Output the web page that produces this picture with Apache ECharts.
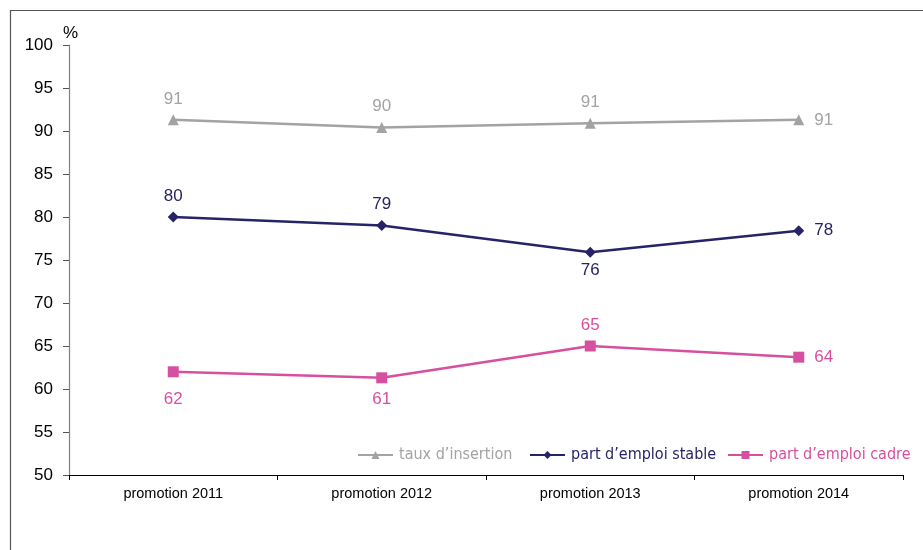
<!DOCTYPE html>
<html>
<head>
<meta charset="utf-8">
<script src="https://cdn.jsdelivr.net/npm/echarts@6/dist/echarts.min.js"></script>
<style>
  html, body { margin: 0; padding: 0; background: #fff; }
  #chart { width: 923px; height: 550px; }
</style>
</head>
<body>
<div id="chart"></div>
<script>
// Categories and values
const categories = ['promotion 2011', 'promotion 2012', 'promotion 2013', 'promotion 2014'];
const tauxInsertion = [91.3, 90.4, 90.9, 91.3];
const emploiStable = [80.0, 79.0, 75.9, 78.4];
const emploiCadre = [62.0, 61.3, 65.0, 63.7];
// Where each value label sits relative to its point
const tauxLabelPos = ['top', 'top', 'top', 'right'];
const stableLabelPos = ['top', 'top', 'bottom', 'right'];
const cadreLabelPos = ['bottom', 'bottom', 'top', 'right'];
const cadreLabelGap = [14, 7, 7, 10];
const seriesNames = ['taux d\u2019insertion', 'part d\u2019emploi stable', 'part d\u2019emploi cadre'];

const GRAY = '#a3a3a3';
const NAVY = '#262466';
const PINK = '#d6509f';
const FONT = 'Liberation Sans, Arial, sans-serif';
const LEGEND_FONT = 'DejaVu Sans Condensed, DejaVu Sans, sans-serif';

function defaultGap(pos) {
  return pos === 'right' ? 10 : (pos === 'top' ? 7 : 4);
}

function points(values, positions, color, gaps) {
  return values.map((v, i) => ({
    value: v,
    label: {
      show: true,
      position: positions[i],
      distance: gaps ? gaps[i] : defaultGap(positions[i]),
      color: color,
      fontSize: 17,
      fontFamily: FONT,
      formatter: p => String(Math.round(p.value))
    }
  }));
}

function lineSeries(name, values, positions, color, symbol, size, gaps) {
  return {
    name: name,
    type: 'line',
    data: points(values, positions, color, gaps),
    symbol: symbol,
    symbolSize: size,
    itemStyle: { color: color },
    lineStyle: { color: color, width: 2.5 },
    emphasis: { disabled: true },
    animation: false
  };
}

// One legend block per series so each entry can sit at its own spot
function legendBlock(name, color, left) {
  return {
    left: left,
    top: 447,
    padding: 0,
    itemWidth: 35,
    itemHeight: 10,
    itemGap: 0,
    selectedMode: false,
    textStyle: { fontSize: 16, color: color, fontFamily: LEGEND_FONT, padding: [0, 0, 0, 1] },
    data: [name]
  };
}

const chart = echarts.init(document.getElementById('chart'), null, { renderer: 'canvas' });
chart.setOption({
  animation: false,
  graphic: [{
    type: 'rect',
    shape: { x: 10.5, y: 10.5, width: 1000, height: 1000 },
    style: { fill: 'none', stroke: '#555', lineWidth: 1.2 },
    silent: true
  }],
  grid: { left: 69, right: 20, top: 45, bottom: 75 },
  legend: [
    legendBlock(seriesNames[0], GRAY, 357),
    legendBlock(seriesNames[1], NAVY, 529),
    legendBlock(seriesNames[2], PINK, 727)
  ],
  xAxis: {
    type: 'category',
    data: categories,
    boundaryGap: true,
    axisLine: { lineStyle: { color: '#000', width: 1.2 } },
    axisTick: { show: true, alignWithLabel: false, length: 5, lineStyle: { color: '#000' } },
    axisLabel: { color: '#000', fontSize: 14.5, margin: 11, fontFamily: FONT },
    splitLine: { show: false }
  },
  yAxis: {
    type: 'value',
    min: 50,
    max: 100,
    interval: 5,
    name: '%',
    nameLocation: 'end',
    nameGap: 3,
    nameTextStyle: { color: '#000', fontSize: 17, align: 'left', padding: [0, 0, 0, -6], fontFamily: FONT },
    axisLine: { show: true, lineStyle: { color: '#808080', width: 1.2 } },
    axisTick: { show: true, length: 6, lineStyle: { color: '#555' } },
    axisLabel: { color: '#000', fontSize: 17, margin: 16, fontFamily: FONT },
    splitLine: { show: false }
  },
  series: [
    lineSeries(seriesNames[0], tauxInsertion, tauxLabelPos, GRAY, 'triangle', 11),
    lineSeries(seriesNames[1], emploiStable, stableLabelPos, NAVY, 'diamond', 11),
    lineSeries(seriesNames[2], emploiCadre, cadreLabelPos, PINK, 'rect', 11, cadreLabelGap)
  ]
});
</script>
</body>
</html>
